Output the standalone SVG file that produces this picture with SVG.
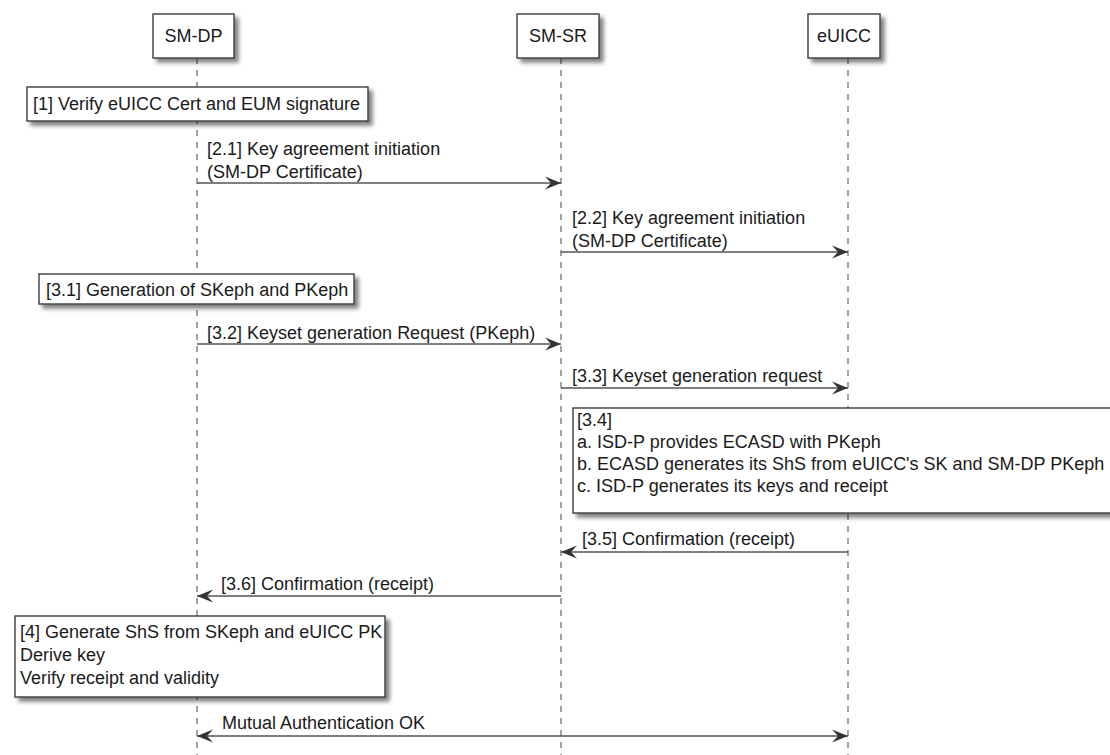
<svg xmlns="http://www.w3.org/2000/svg" width="1110" height="755" viewBox="0 0 1110 755">
<style>
text{font-family:"Liberation Sans",Arial,sans-serif;font-size:18px;fill:#1a1a1a}
.box{fill:#ffffff;stroke:#3c3c3c;stroke-width:1.4;filter:url(#sh)}
.life{stroke:#666666;stroke-width:1.2;stroke-dasharray:6 6;fill:none}
.msg{stroke:#555555;stroke-width:1.7;fill:none;marker-end:url(#ah)}
.bi{marker-start:url(#ah)}
.c{text-anchor:middle}
</style>
<defs>
<filter id="sh" x="-10%" y="-20%" width="130%" height="160%">
<feGaussianBlur in="SourceAlpha" stdDeviation="2"/>
<feOffset dx="4" dy="4" result="b"/>
<feComponentTransfer><feFuncA type="linear" slope="0.5"/></feComponentTransfer>
<feMerge><feMergeNode/><feMergeNode in="SourceGraphic"/></feMerge>
</filter>
<marker id="ah" viewBox="-17 -7 18 14" refX="0" refY="0" markerWidth="18" markerHeight="14" markerUnits="userSpaceOnUse" orient="auto-start-reverse">
<path d="M0,0 L-16,-6.5 L-10,0 L-16,6.5 Z" fill="#333333"/>
</marker>
</defs>
<g id="lifelines">
<line class="life" x1="197" y1="58" x2="197" y2="755"/>
<line class="life" x1="561" y1="58" x2="561" y2="755"/>
<line class="life" x1="848" y1="58" x2="848" y2="755"/>
</g>
<g id="p-smdp"><rect class="box" x="153" y="14" width="81" height="44"/><text class="c" x="193.5" y="42">SM-DP</text></g>
<g id="p-smsr"><rect class="box" x="517" y="14" width="82" height="44"/><text class="c" x="558" y="42">SM-SR</text></g>
<g id="p-euicc"><rect class="box" x="808" y="14" width="72" height="44"/><text class="c" x="844" y="42">eUICC</text></g>
<g id="n1"><rect class="box" x="27" y="87" width="341" height="34"/><text x="33" y="110">[1] Verify eUICC Cert and EUM signature</text></g>
<g id="n31"><rect class="box" x="39" y="274" width="315" height="30"/><text x="46" y="296">[3.1] Generation of SKeph and PKeph</text></g>
<g id="n34"><rect class="box" x="573" y="408" width="600" height="105"/>
<text x="577" y="426">[3.4]</text>
<text x="577" y="448">a. ISD-P provides ECASD with PKeph</text>
<text x="577" y="470">b. ECASD generates its ShS from eUICC's SK and SM-DP PKeph</text>
<text x="577" y="492">c. ISD-P generates its keys and receipt</text></g>
<g id="n4"><rect class="box" x="15" y="616" width="370" height="81"/>
<text x="20" y="638">[4] Generate ShS from SKeph and eUICC PK</text>
<text x="20" y="661">Derive key</text>
<text x="20" y="684">Verify receipt and validity</text></g>
<g id="connectors">
<line class="msg" x1="197" y1="183" x2="561" y2="183"/>
<text x="207" y="155">[2.1] Key agreement initiation</text>
<text x="207" y="178">(SM-DP Certificate)</text>
<line class="msg" x1="561" y1="252" x2="848" y2="252"/>
<text x="572" y="224">[2.2] Key agreement initiation</text>
<text x="572" y="247">(SM-DP Certificate)</text>
<line class="msg" x1="197" y1="344" x2="561" y2="344"/>
<text x="207" y="339">[3.2] Keyset generation Request (PKeph)</text>
<line class="msg" x1="561" y1="388" x2="848" y2="388"/>
<text x="572" y="382">[3.3] Keyset generation request</text>
<line class="msg" x1="848" y1="552" x2="561" y2="552"/>
<text x="582" y="545">[3.5] Confirmation (receipt)</text>
<line class="msg" x1="561" y1="596" x2="197" y2="596"/>
<text x="221" y="590">[3.6] Confirmation (receipt)</text>
<line class="msg bi" x1="197" y1="736" x2="848" y2="736"/>
<text x="222" y="729">Mutual Authentication OK</text>
</g>
</svg>
